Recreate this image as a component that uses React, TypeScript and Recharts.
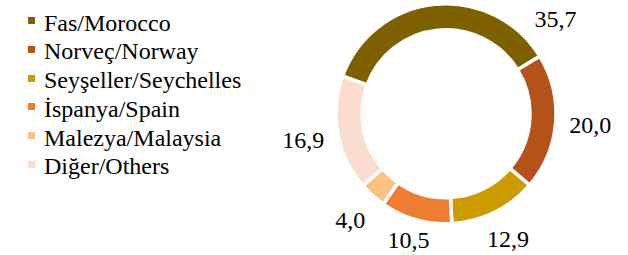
import { PieChart, Pie, Cell } from 'recharts'

const COUNTRIES = ['Fas/Morocco', 'Norveç/Norway', 'Seyşeller/Seychelles', 'İspanya/Spain', 'Malezya/Malaysia', 'Diğer/Others']
const SHARES = [35.7, 20.0, 12.9, 10.5, 4.0, 16.9]
const COLORS = ['#7F6000', '#B5521A', '#CC9B00', '#ED7D31', '#FBC286', '#FADDCE']

const FONT = 'Liberation Serif'
const RAD = Math.PI / 180
const H = 255

const data = COUNTRIES.map((name, i) => ({ name, value: SHARES[i] }))

const fmt = (v: number) => v.toFixed(1).replace('.', ',')

// label sits just outside the ring; if it would run off the top, slide it clockwise,
// and keep it above the bottom edge
function renderLabel(props: any) {
  const { cx, cy, midAngle, outerRadius, value } = props
  const hw = 21
  const hh = 8.5
  const gap = 13
  const place = (deg: number) => {
    const c = Math.cos(deg * RAD)
    const s = Math.sin(deg * RAD)
    const d = outerRadius + gap + Math.abs(c) * hw + Math.abs(s) * hh
    return { x: cx + d * c, y: cy - d * s }
  }
  let angle = midAngle
  let p = place(angle)
  while (p.y < hh + 9.5 && angle > midAngle - 90) {
    angle -= 1
    p = place(angle)
  }
  const y = Math.min(p.y, H - hh - 7)
  return (
    <text x={p.x} y={y} textAnchor="middle" dominantBaseline="central" fill="#000" fontSize={24} fontFamily={FONT}>
      {fmt(value)}
    </text>
  )
}

function LegendList() {
  return (
    <ul
      style={{
        position: 'absolute', left: 28, top: 8.5, listStyle: 'none', margin: 0, padding: 0,
        fontFamily: FONT, fontSize: 24, lineHeight: '28.8px', color: '#000',
      }}
    >
      {COUNTRIES.map((name, i) => (
        <li key={name} style={{ position: 'relative', height: 28.8, whiteSpace: 'nowrap' }}>
          <span style={{ position: 'absolute', left: 0, top: 8.5, width: 7, height: 7, background: COLORS[i] }} />
          <span style={{ position: 'absolute', left: 16, top: 0 }}>{name}</span>
        </li>
      ))}
    </ul>
  )
}

export default function App() {
  return (
    <div style={{ position: 'absolute', left: 0, top: 0, width: 628, height: H, background: '#fff' }}>
      <PieChart width={628} height={H} margin={{ top: 0, right: 0, bottom: 0, left: 0 }}>
        <Pie
          data={data}
          dataKey="value"
          nameKey="name"
          cx={446}
          cy={113.7}
          innerRadius={84}
          outerRadius={110}
          startAngle={160}
          endAngle={-200}
          stroke="#fff"
          strokeWidth={3.5}
          label={renderLabel}
          labelLine={false}
          isAnimationActive={false}
        >
          {data.map((d, i) => (
            <Cell key={d.name} fill={COLORS[i]} />
          ))}
        </Pie>
      </PieChart>
      <LegendList />
    </div>
  )
}
